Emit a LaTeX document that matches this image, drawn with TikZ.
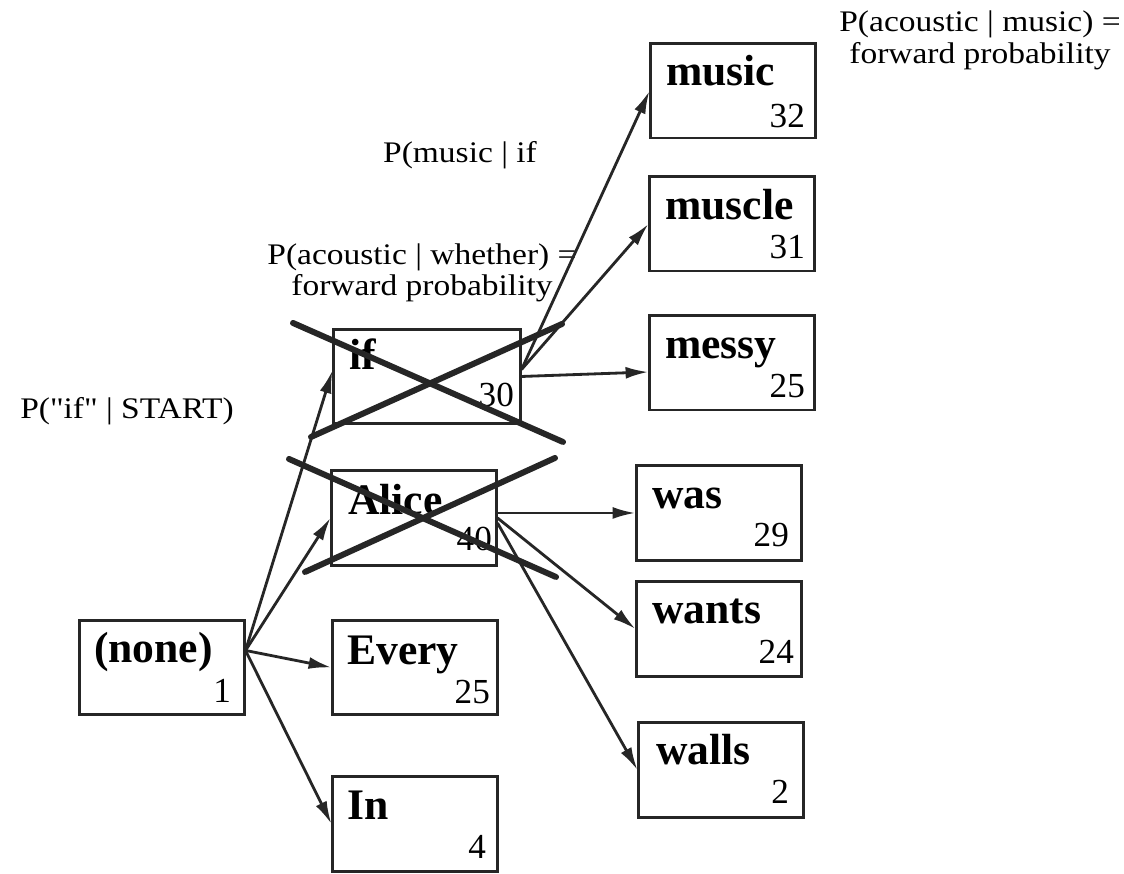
\documentclass[tikz,border=0pt]{standalone}
\usepackage{fontspec}
\setmainfont{Liberation Serif}
\newfontfamily\lblfont[FakeStretch=1.12]{Liberation Serif}
\usetikzlibrary{arrows.meta}

\tikzset{
	wbox/.style={draw=black!85, line width=0.85pt, minimum width=1.64cm, minimum height=0.94cm, inner sep=0pt},
	word/.style={anchor=base west, inner sep=0pt, font=\fontsize{12.4}{14}\selectfont\bfseries},
	num/.style={anchor=base east, inner sep=0pt, font=\fontsize{10}{11}\selectfont},
	lbl/.style={inner sep=0pt, align=center, font=\lblfont\fontsize{8.5}{9}\selectfont},
	link/.style={-{Latex[length=6.5pt,width=3.4pt]}, line width=0.8pt, draw=black!85},
	strike/.style={line width=1.7pt, draw=black!85, line cap=round}
}

\begin{document}
\begin{tikzpicture}[x=0.01cm, y=0.01cm]
		
		\fill[white] (0,0) rectangle (1124,874);
		\useasboundingbox (0,0) rectangle (1124,874);
		
		% start word
		\node[wbox] (none) at (162,206.5) {};
		\node[word] at ([shift={(15,-44)}]none.north west) {(none)};
		\node[num] at ([shift={(-14,14)}]none.south east) {1};
		
		% first words
		\node[wbox, minimum width=1.86cm] (if) at (427,497.5) {};
		\node[word] at ([shift={(16,-42)}]if.north west) {if};
		\node[num] at ([shift={(-7,18)}]if.south east) {30};
		
		\node[wbox] (Alice) at (414,356) {};
		\node[word] at ([shift={(17,-45)}]Alice.north west) {Alice};
		\node[num] at ([shift={(-5,16)}]Alice.south east) {40};
		
		\node[wbox] (Every) at (415,206.5) {};
		\node[word] at ([shift={(15,-46)}]Every.north west) {Every};
		\node[num] at ([shift={(-8,13)}]Every.south east) {25};
		
		\node[wbox] (In) at (415,50) {};
		\node[word] at ([shift={(15,-44)}]In.north west) {In};
		\node[num] at ([shift={(-12,14)}]In.south east) {4};
		
		% second words after "if"
		\node[wbox] (music) at (733,783) {};
		\node[word] at ([shift={(16,-43)}]music.north west) {music};
		\node[num] at ([shift={(-11,12)}]music.south east) {32};
		
		\node[wbox] (muscle) at (732,650) {};
		\node[word] at ([shift={(16,-44)}]muscle.north west) {muscle};
		\node[num] at ([shift={(-10,14)}]muscle.south east) {31};
		
		\node[wbox] (messy) at (732,511) {};
		\node[word] at ([shift={(16,-44)}]messy.north west) {messy};
		\node[num] at ([shift={(-10,14)}]messy.south east) {25};
		
		% second words after "Alice"
		\node[wbox] (was) at (719,361) {};
		\node[word] at ([shift={(16,-44)}]was.north west) {was};
		\node[num] at ([shift={(-13,15)}]was.south east) {29};
		
		\node[wbox] (wants) at (719,245) {};
		\node[word] at ([shift={(16,-43)}]wants.north west) {wants};
		\node[num] at ([shift={(-8,14)}]wants.south east) {24};
		
		\node[wbox] (walls) at (721,104) {};
		\node[word] at ([shift={(18,-43)}]walls.north west) {walls};
		\node[num] at ([shift={(-15,15)}]walls.south east) {2};
		
		% probabilities
		\node[lbl] (pmusic) at (980,833.5) {P(acoustic | music) =\\forward probability};
		\node[lbl, anchor=base] (pif) at (460,711) {P(music | if};
		\node[lbl] (pwhether) at (422,601) {P(acoustic | whether) =\\forward probability};
		\node[lbl, anchor=base] (pstart) at (127,455) {P("if" | START)};
		
		% links
		\coordinate (nout) at ([yshift=0.17cm]none.east);
		\draw[link] (nout) -- ([yshift=0.06cm]if.west);
		\draw[link] (nout) -- (Alice.west);
		\draw[link] (nout) -- (Every.west);
		\draw[link] (nout) -- (In.west);
		
		\coordinate (ifout) at ([yshift=0.07cm]if.east);
		\draw[link] (ifout) -- (music.west);
		\draw[link] (ifout) -- (muscle.west);
		\draw[link] (if.east) -- ([yshift=-0.09cm]messy.west);
		
		\draw[link] (Alice.east |- was.west) -- (was.west);
		\draw[link] (Alice.east) -- (wants.west);
		\draw[link] ([yshift=-0.05cm]Alice.east) -- (walls.west);
		
		% pruned paths
		\draw[strike] (293,551) -- (563,432);
		\draw[strike] (311,437) -- (562,550);
		\draw[strike] (289,415) -- (556,297);
		\draw[strike] (305,302) -- (555,416);
		
\end{tikzpicture}
\end{document}
